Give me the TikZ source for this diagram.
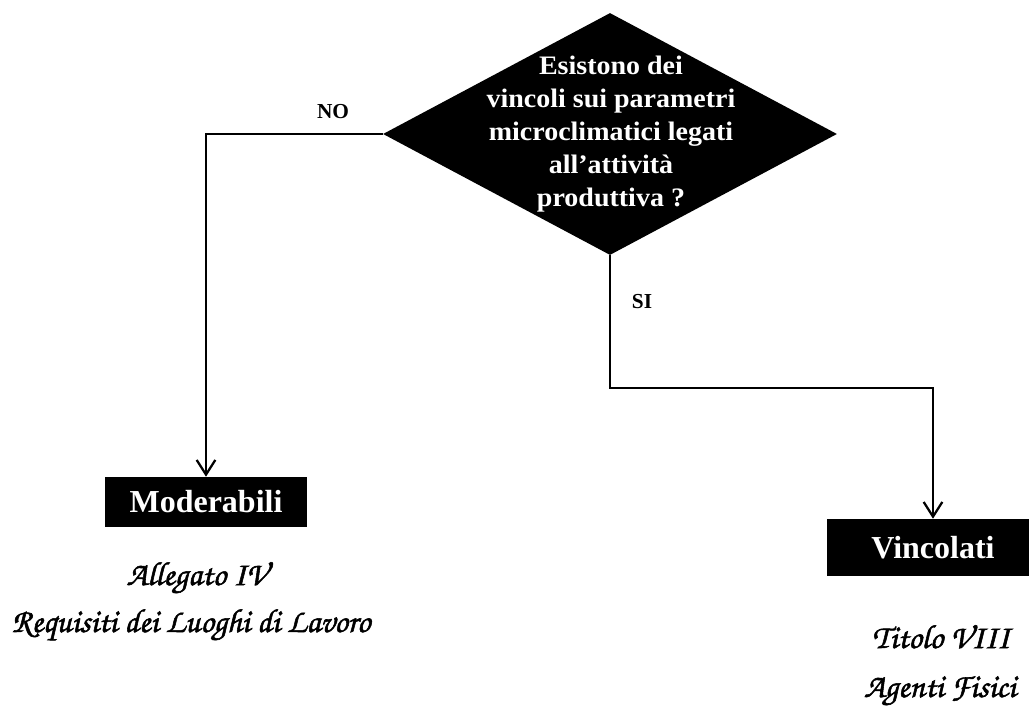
\documentclass[tikz,border=0pt]{standalone}
\usepackage{fontspec}
\setmainfont{Liberation Serif}
\newfontfamily\handfont{texgyrechorus-mediumitalic.otf}[AutoFakeBold=1.6]
\newfontfamily\widefont{Liberation Serif}[FakeStretch=1.05]
\usetikzlibrary{shapes.geometric,arrows.meta}
\begin{document}
\begin{tikzpicture}[x=0.75pt,y=-0.75pt,
  conn/.style={line width=2pt},
  arr/.style={conn,-{Straight Barb[length=11pt,width=14pt,line width=1.7pt]}},
  blackbox/.style={fill=black,text=white,font=\fontsize{24}{28}\selectfont\bfseries,inner sep=0pt},
  lbl/.style={font=\fontsize{16}{19}\selectfont\bfseries},
  hand/.style={font=\handfont\fontsize{25}{30}\selectfont\bfseries,anchor=base}]
\useasboundingbox (0,0) rectangle (1029,706);
\node[diamond,fill=black,inner sep=0pt,minimum width=340.5pt,minimum height=181.5pt] (q) at (610,134) {};
\node[text=white,align=center,font=\widefont\fontsize{20}{24.75}\selectfont\bfseries] (qt) at (611,134)
  {Esistono dei\\vincoli sui parametri\\microclimatici legati\\all’attività\\produttiva ?};
\node[blackbox,minimum width=151.5pt,minimum height=37.5pt] (mod) at (206,502) {Moderabili};
\node[blackbox,minimum width=159pt,minimum height=42.75pt] (vin) at (933,547.5) {Vincolati};
\coordinate (c1) at (610,388);
\draw[arr] (q.west) -| (mod.north);
\draw[arr] (q.south) -- (c1) -| (vin.north);
\node[lbl] (no) at (333,112) {NO};
\node[lbl] (si) at (642,302) {SI};
\node[hand] (a1) at (197,585) {Allegato IV};
\node[hand] (a2) at (191,632) {Requisiti dei Luoghi di Lavoro};
\node[hand] (t1) at (941,648) {Titolo VIII};
\node[hand] (t2) at (940,697) {Agenti Fisici};
\end{tikzpicture}
\end{document}
